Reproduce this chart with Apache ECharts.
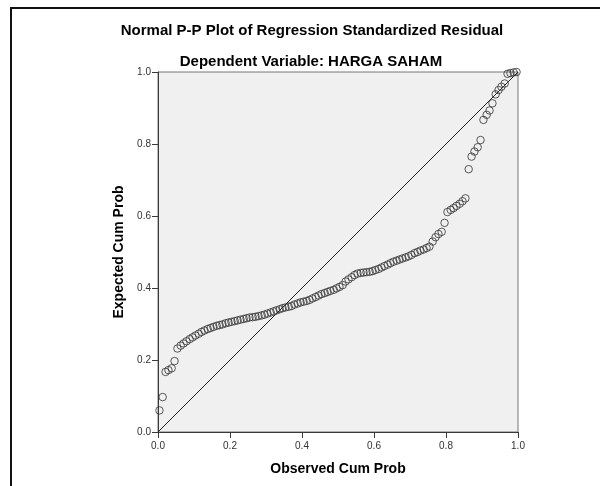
<!DOCTYPE html>
<html>
<head>
<meta charset="utf-8">
<script src="https://cdn.jsdelivr.net/npm/echarts@6/dist/echarts.min.js"></script>
<style>
html,body{margin:0;padding:0;background:#fff;}
#chart{width:600px;height:486px;}
</style>
</head>
<body>
<div id="chart"></div>
<script>
const chartTitle = 'Normal P-P Plot of Regression Standardized Residual';
const chartSubtitle = 'Dependent Variable: HARGA SAHAM';
const xAxisName = 'Observed Cum Prob';
const yAxisName = 'Expected Cum Prob';
const tickValues = [0, 0.2, 0.4, 0.6, 0.8, 1.0];
const diagonal = [[0, 0], [1, 1]];

const observedCumProb = [
  0.004,0.013,0.021,0.029,0.038,0.046,0.054,0.063,0.071,0.079,
  0.088,0.096,0.104,0.113,0.121,0.129,0.138,0.146,0.154,0.163,
  0.171,0.179,0.188,0.196,0.204,0.213,0.221,0.229,0.238,0.246,
  0.254,0.263,0.271,0.279,0.288,0.296,0.304,0.313,0.321,0.329,
  0.338,0.346,0.354,0.363,0.371,0.379,0.388,0.396,0.404,0.413,
  0.421,0.429,0.438,0.446,0.454,0.463,0.471,0.479,0.488,0.496,
  0.504,0.513,0.521,0.529,0.538,0.546,0.554,0.563,0.571,0.579,
  0.588,0.596,0.604,0.613,0.621,0.629,0.638,0.646,0.654,0.663,
  0.671,0.679,0.688,0.696,0.704,0.713,0.721,0.729,0.738,0.746,
  0.754,0.763,0.771,0.779,0.788,0.796,0.804,0.813,0.821,0.829,
  0.838,0.846,0.854,0.863,0.871,0.879,0.888,0.896,0.904,0.913,
  0.921,0.929,0.938,0.946,0.954,0.963,0.971,0.979,0.988,0.996
];
const expectedCumProb = [
  0.060,0.097,0.167,0.172,0.177,0.197,0.232,0.240,0.246,0.252,
  0.258,0.263,0.268,0.273,0.278,0.282,0.286,0.289,0.292,0.295,
  0.297,0.299,0.302,0.304,0.306,0.308,0.310,0.312,0.314,0.316,
  0.318,0.319,0.320,0.322,0.324,0.326,0.329,0.332,0.335,0.338,
  0.341,0.344,0.346,0.348,0.350,0.354,0.357,0.360,0.362,0.364,
  0.367,0.371,0.375,0.379,0.383,0.386,0.389,0.392,0.395,0.399,
  0.403,0.408,0.418,0.424,0.430,0.436,0.440,0.442,0.443,0.444,
  0.445,0.447,0.450,0.453,0.457,0.461,0.465,0.469,0.473,0.476,
  0.479,0.482,0.485,0.488,0.492,0.497,0.500,0.504,0.507,0.511,
  0.515,0.529,0.541,0.550,0.556,0.581,0.611,0.617,0.622,0.628,
  0.634,0.641,0.649,0.730,0.765,0.779,0.791,0.811,0.867,0.881,
  0.893,0.913,0.938,0.950,0.959,0.968,0.995,0.997,0.999,1.000
];

const points = observedCumProb.map((x, i) => [x, expectedCumProb[i]]);
const FONT = 'Liberation Sans, Arial, sans-serif';

const chart = echarts.init(document.getElementById('chart'), null, {renderer: 'canvas'});
const axisCommon = {
  type: 'value', min: 0, max: 1, interval: 0.2,
  axisLine: {show: true, onZero: false, lineStyle: {color: '#3a3a3a', width: 1}},
  axisTick: {show: true, inside: false, length: 6, lineStyle: {color: '#3a3a3a', width: 1}},
  axisLabel: {color: '#333', fontSize: 10, fontFamily: FONT, margin: 7,
    formatter: v => tickValues.some(t => Math.abs(t - v) < 1e-9) ? v.toFixed(1) : ''},
  splitLine: {show: false},
  nameLocation: 'middle',
  nameTextStyle: {color: '#000', fontSize: 14, fontWeight: 'bold', fontFamily: FONT}
};
chart.setOption({
  animation: false,
  backgroundColor: '#fff',
  grid: {left: 158, top: 72, width: 360, height: 360, show: true,
    backgroundColor: '#f0f0f0', borderColor: '#777', borderWidth: 1},
  xAxis: Object.assign({}, axisCommon, {name: xAxisName, nameGap: 30,
    axisLabel: Object.assign({}, axisCommon.axisLabel, {margin: 9})}),
  yAxis: Object.assign({}, axisCommon, {name: yAxisName, nameGap: 30}),
  graphic: [
    {type: 'rect', silent: true, shape: {x: 11, y: 8, width: 700, height: 600},
      style: {fill: 'none', stroke: '#111', lineWidth: 2}},
    {type: 'text', x: 312, y: 31, style: {text: chartTitle, textAlign: 'center', textVerticalAlign: 'middle',
      font: 'bold 15px ' + FONT, fill: '#000'}},
    {type: 'text', x: 311, y: 62, style: {text: chartSubtitle, textAlign: 'center', textVerticalAlign: 'middle',
      font: 'bold 15px ' + FONT, fill: '#000'}}
  ],
  series: [
    {type: 'line', data: diagonal, symbol: 'none', silent: true,
      lineStyle: {color: '#222', width: 1}, z: 2},
    {type: 'scatter', data: points, symbol: 'circle', symbolSize: 7.5,
      itemStyle: {color: 'rgba(0,0,0,0)', borderColor: '#333', borderWidth: 1}, z: 3}
  ]
});
</script>
</body>
</html>
